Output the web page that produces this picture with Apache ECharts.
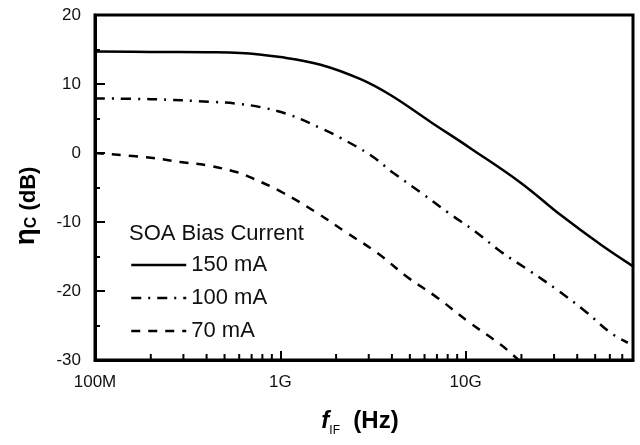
<!DOCTYPE html>
<html>
<head>
<meta charset="utf-8">
<script src="https://cdn.jsdelivr.net/npm/echarts@6/dist/echarts.min.js"></script>
<style>
  html, body { margin: 0; padding: 0; background: #fff; }
  #chart { width: 640px; height: 445px; }
</style>
</head>
<body>
<div id="chart"></div>
<script>
// IF frequency (Hz) and conversion efficiency (dB)
const freq150 = [1e8, 2e8, 4e8, 6.08e8, 1e9, 1.65e9, 2.71e9, 3.93e9, 6.47e9, 1.06e10, 1.98e10, 3.26e10, 5.37e10, 8.09e10];
const eta150  = [14.7, 14.65, 14.6, 14.5, 13.9, 12.8, 10.7, 8.4, 4.5, 0.7, -4.3, -9.0, -13.3, -16.5];

const freq100 = [1e8, 2e8, 4.34e8, 6.08e8, 8.3e8, 1.13e9, 1.65e9, 2.11e9, 3.06e9, 4.08e9, 5.71e9, 8e9, 1.13e10, 1.55e10, 2.25e10, 3.14e10, 4.45e10, 6.08e10, 7.5e10];
const eta100  = [7.9, 7.8, 7.4, 7.1, 6.5, 5.5, 3.6, 2.2, -0.3, -2.9, -5.7, -8.6, -11.4, -14.3, -17.2, -19.9, -23.0, -26.1, -27.5];

const freq70 = [1e8, 2e8, 2.88e8, 4.03e8, 5.86e8, 7.14e8, 1.04e9, 1.55e9, 2.25e9, 3.34e9, 4.86e9, 7.06e9, 1.04e10, 1.55e10, 1.93e10];
const eta70  = [0.0, -0.7, -1.3, -1.8, -2.8, -3.7, -5.8, -8.55, -11.45, -14.5, -18.0, -21.0, -24.5, -27.8, -30.0];

const seriesNames = ['150 mA', '100 mA', '70 mA'];

// x tick labels at the decades
const xTickDecades = [8, 9, 10];
const xTickLabels = ['100M', '1G', '10G'];

const xMin = 1e8, xMax = 8e10, yMin = -30, yMax = 20;

const zip = (xs, ys) => xs.map((x, i) => [x, ys[i]]);

// minor ticks of the log axis: 2..9 in each decade
const minorX = [];
for (let d = 8; d <= 10; d++) {
  for (let k = 2; k <= 9; k++) {
    const v = k * Math.pow(10, d);
    if (v < xMax) minorX.push([v, yMin]);
  }
}

const font = 'Liberation Sans, Arial, sans-serif';
const chart = echarts.init(document.getElementById('chart'));

const lineSeries = (name, data, type, width) => ({
  name: name,
  type: 'line',
  data: data,
  symbol: 'none',
  smooth: 0.4,
  lineStyle: { color: '#000', width: width, type: type },
  itemStyle: { color: '#000' },
  z: 3
});

chart.setOption({
  animation: false,
  grid: {
    left: 95, right: 7, top: 15, bottom: 85,
    show: true, borderColor: '#000', borderWidth: 3
  },
  legend: {
    data: seriesNames,
    orient: 'vertical',
    left: 130, top: 254, padding: 0,
    itemWidth: 55, itemHeight: 20, itemGap: 11,
    textStyle: { fontFamily: font, fontSize: 22, color: '#111' },
    lineStyle: { width: 2.5 },
    itemStyle: { color: 'rgba(0,0,0,0)', borderWidth: 0, opacity: 0 }
  },
  graphic: [
    {
      type: 'text', left: 129, top: 223,
      style: { text: 'SOA Bias Current', font: '22px ' + font, fill: '#111' }
    },
    {
      type: 'text', x: 26, y: 206, rotation: Math.PI / 2,
      style: {
        text: '{eta|η}{sub|C}{b| (dB)}',
        align: 'center', verticalAlign: 'middle',
        rich: {
          eta: { font: 'bold 28px ' + font, fill: '#000', verticalAlign: 'bottom' },
          sub: { font: 'bold 16px ' + font, fill: '#000', verticalAlign: 'bottom' },
          b: { font: 'bold 22px ' + font, fill: '#000', verticalAlign: 'bottom' }
        }
      }
    },
    {
      type: 'text', x: 360, y: 421,
      style: {
        text: '{f|f}{sub|IF}{b|  (Hz)}',
        align: 'center', verticalAlign: 'middle',
        rich: {
          f: { font: 'italic bold 24px ' + font, fill: '#000', verticalAlign: 'bottom' },
          sub: { font: '12px ' + font, fill: '#000', verticalAlign: 'bottom', padding: [0, 0, -4, 0] },
          b: { font: 'bold 24px ' + font, fill: '#000', verticalAlign: 'bottom' }
        }
      }
    }
  ],
  xAxis: {
    type: 'log', logBase: 10, min: xMin, max: xMax,
    axisLine: { onZero: false, lineStyle: { color: '#000', width: 3 } },
    axisTick: { inside: true, length: 9, lineStyle: { color: '#000', width: 2 } },
    splitLine: { show: false },
    axisLabel: {
      fontFamily: font, fontSize: 17, color: '#111', margin: 14,
      formatter: function (v) {
        const e = Math.log10(v);
        const i = xTickDecades.indexOf(Math.round(e));
        return (i >= 0 && Math.abs(e - Math.round(e)) < 1e-6) ? xTickLabels[i] : '';
      }
    }
  },
  yAxis: {
    type: 'value', min: yMin, max: yMax, interval: 10,
    axisLine: { show: true, onZero: false, lineStyle: { color: '#000', width: 3 } },
    axisTick: { show: true, inside: true, length: 10, lineStyle: { color: '#000', width: 2 } },
    minorTick: { show: true, splitNumber: 2, length: 5, lineStyle: { color: '#000', width: 2 } },
    splitLine: { show: false },
    axisLabel: { fontFamily: font, fontSize: 17, color: '#111', margin: 14 }
  },
  series: [
    lineSeries(seriesNames[0], zip(freq150, eta150), 'solid', 2.5),
    lineSeries(seriesNames[1], zip(freq100, eta100), [10, 7, 2, 7], 2.5),
    lineSeries(seriesNames[2], zip(freq70, eta70), [9, 8], 2.5),
    {
      type: 'custom',
      silent: true,
      data: minorX,
      renderItem: function (params, api) {
        const p = api.coord([api.value(0), api.value(1)]);
        return {
          type: 'line',
          shape: { x1: p[0], y1: p[1], x2: p[0], y2: p[1] - 6 },
          style: { stroke: '#000', lineWidth: 2 }
        };
      },
      z: 4
    }
  ]
});
</script>
</body>
</html>
